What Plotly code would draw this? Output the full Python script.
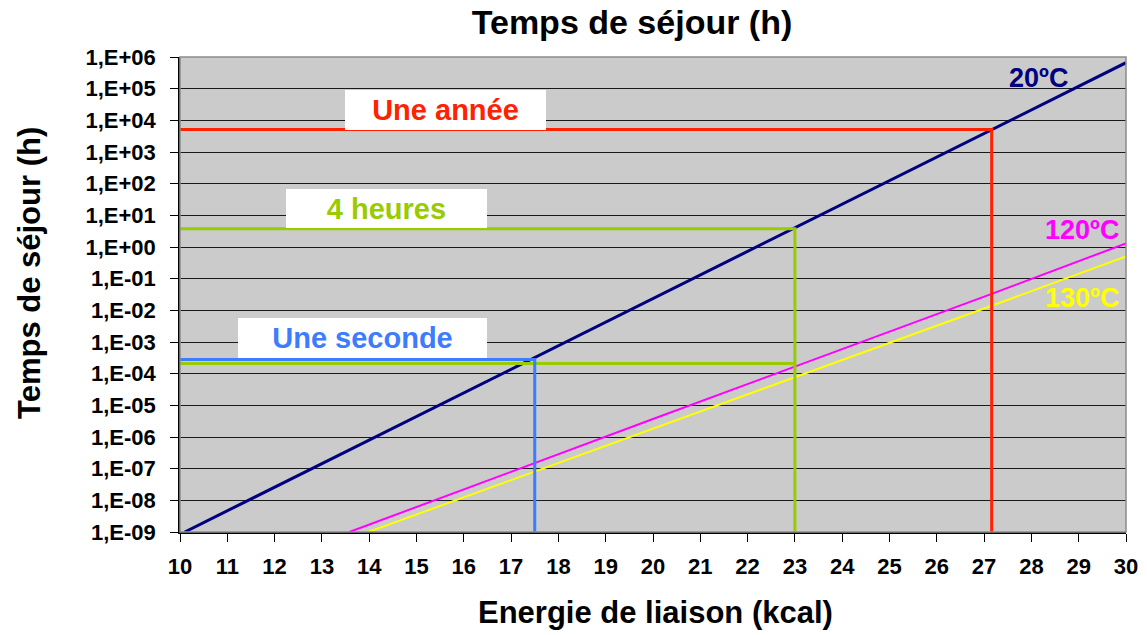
import plotly.graph_objects as go

# Residence time vs. bond energy, three temperatures (log scale)
energy_20 = [10.1, 15.0, 20.0, 25.0, 30.0]
time_20 = [1.0e-9, 4.5e-6, 2.3e-2, 1.26e2, 6.6e5]

energy_120 = [13.58, 20.0, 27.16, 30.0]
time_120 = [1.0e-9, 3.7e-6, 3.3e-2, 1.3]

energy_130 = [13.98, 20.0, 27.16, 30.0]
time_130 = [1.0e-9, 1.8e-6, 1.4e-2, 0.5]

# Reference durations and the bond energies they meet on the 20ºC curve
year_h, year_kcal = 5.1e3, 27.16
four_h, four_kcal = 3.8, 23.0
four_h_hot = 2.1e-4
second_h, second_kcal = 2.8e-4, 17.5
x_start, y_floor = 10.0, 1.0e-9

y_tickvals = [1e-9, 1e-8, 1e-7, 1e-6, 1e-5, 1e-4, 1e-3, 1e-2, 1e-1,
              1e0, 1e1, 1e2, 1e3, 1e4, 1e5, 1e6]
y_ticktext = ["1,E-09", "1,E-08", "1,E-07", "1,E-06", "1,E-05", "1,E-04",
              "1,E-03", "1,E-02", "1,E-01", "1,E+00", "1,E+01", "1,E+02",
              "1,E+03", "1,E+04", "1,E+05", "1,E+06"]
x_tickvals = list(range(10, 31))

FONT = "Liberation Sans, Arial, sans-serif"
NAVY = "#000080"
MAGENTA = "#FF00FF"
YELLOW = "#FFFF00"
RED = "#FF2200"
GREEN = "#99CC00"
BLUE = "#3D7BFF"

W, H = 1147, 635
L, R, T, B = 180, 21, 57, 103
PW, PH = W - L - R, H - T - B


def px(xp):
    return (xp - L) / PW


def py(yp):
    return (H - B - yp) / PH


fig = go.Figure()

fig.add_trace(go.Scatter(x=energy_20, y=time_20, mode="lines",
                         line=dict(color=NAVY, width=3), name="20ºC"))
fig.add_trace(go.Scatter(x=energy_120, y=time_120, mode="lines",
                         line=dict(color=MAGENTA, width=2), name="120ºC"))
fig.add_trace(go.Scatter(x=energy_130, y=time_130, mode="lines",
                         line=dict(color=YELLOW, width=2), name="130ºC"))

fig.add_trace(go.Scatter(x=[x_start, year_kcal, year_kcal],
                         y=[year_h, year_h, y_floor], mode="lines",
                         line=dict(color=RED, width=3), name="Une année"))
fig.add_trace(go.Scatter(x=[x_start, four_kcal, four_kcal],
                         y=[four_h, four_h, y_floor], mode="lines",
                         line=dict(color=GREEN, width=3), name="4 heures"))
fig.add_trace(go.Scatter(x=[x_start, four_kcal],
                         y=[four_h_hot, four_h_hot], mode="lines",
                         line=dict(color=GREEN, width=3), name="4 heures (chaud)"))
fig.add_trace(go.Scatter(x=[x_start, second_kcal, second_kcal],
                         y=[second_h, second_h, y_floor], mode="lines",
                         line=dict(color=BLUE, width=3), name="Une seconde"))

annotations = []


def boxed(text, color, cx, cy, w, h):
    annotations.append(dict(
        text=text, xref="paper", yref="paper", x=px(cx), y=py(cy),
        xanchor="center", yanchor="middle", showarrow=False,
        width=w, height=h, bgcolor="white", borderpad=0, borderwidth=0,
        font=dict(family=FONT, size=29, color=color, weight="bold")))


boxed("Une année", RED, 445.5, 110, 201, 40)
boxed("4 heures", GREEN, 386, 208.5, 201, 39)
boxed("Une seconde", BLUE, 362, 338, 249, 40)


def tag(text, color, cx, cy):
    annotations.append(dict(
        text=text, xref="paper", yref="paper", x=px(cx), y=py(cy),
        xanchor="center", yanchor="middle", showarrow=False,
        font=dict(family=FONT, size=27, color=color, weight="bold")))


tag("20ºC", NAVY, 1038, 78)
tag("120ºC", MAGENTA, 1082, 229.5)
tag("130ºC", YELLOW, 1082, 297.5)

# Axis titles placed at fixed positions
annotations.append(dict(
    text="Temps de séjour (h)", xref="paper", yref="paper",
    x=px(29), y=py(273), xanchor="center", yanchor="middle",
    textangle=-90, showarrow=False,
    font=dict(family=FONT, size=31, color="black", weight="bold")))
annotations.append(dict(
    text="Energie de liaison (kcal)", xref="paper", yref="paper",
    x=px(655), y=py(612), xanchor="center", yanchor="middle",
    showarrow=False,
    font=dict(family=FONT, size=31, color="black", weight="bold")))

fig.update_layout(
    width=W, height=H,
    margin=dict(l=L, r=R, t=T, b=B, pad=0, autoexpand=False),
    paper_bgcolor="white",
    plot_bgcolor="#CBCBCB",
    showlegend=False,
    title=dict(text="Temps de séjour (h)", x=632 / W, xanchor="center",
               y=1 - 22 / H, yanchor="middle",
               font=dict(family=FONT, size=34, color="black", weight="bold")),
    annotations=annotations,
    shapes=[dict(type="rect", xref="paper", yref="paper", x0=0, x1=1,
                 y0=0, y1=1, line=dict(color="#8C8C8C", width=1.5),
                 layer="above")],
)

fig.update_xaxes(
    range=[10, 30], tickvals=x_tickvals, ticks="outside", ticklen=8,
    tickcolor="black", showgrid=False, zeroline=False, automargin=False,
    showline=True, linecolor="black", linewidth=1.5,
    tickfont=dict(family=FONT, size=22, color="black", weight="bold"),
    ticklabelstandoff=6,
)

fig.update_yaxes(
    type="log", range=[-9, 6], tickvals=y_tickvals, ticktext=y_ticktext,
    ticks="outside", ticklen=8, tickcolor="black", automargin=False,
    showgrid=True, gridcolor="#1A1A1A", gridwidth=1,
    showline=True, linecolor="black", linewidth=1.5,
    tickfont=dict(family=FONT, size=22, color="black", weight="bold"),
    ticklabelstandoff=10,
)

fig.write_html("out.html")
